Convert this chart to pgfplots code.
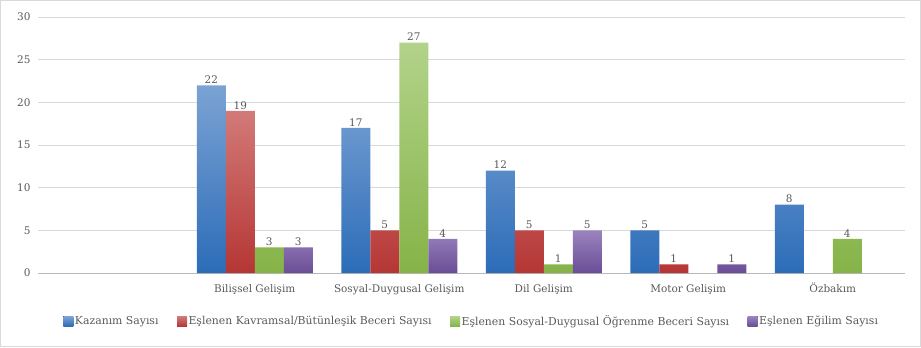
\documentclass[border=0pt]{standalone}
\usepackage{fontspec}
\setmainfont{DejaVu Serif}
\usepackage{pgfplots}
\pgfplotsset{compat=1.18}
\definecolor{cbT}{HTML}{7BA3D4}
\definecolor{cbB}{HTML}{2C6CB8}
\definecolor{crT}{HTML}{D27A78}
\definecolor{crB}{HTML}{B53634}
\definecolor{cgT}{HTML}{B2D38A}
\definecolor{cgB}{HTML}{86B348}
\definecolor{cpT}{HTML}{9A84BE}
\definecolor{cpB}{HTML}{6A4D96}
\definecolor{txt}{HTML}{595959}
\definecolor{grd}{HTML}{D9D9D9}
\begin{document}
\begin{tikzpicture}[x=1bp,y=1bp]
\useasboundingbox (0,0) rectangle (921,347);
\draw[grd] (0.5,0.5) rectangle (920.5,346.5);
\begin{axis}[
  at={(38bp,74bp)}, anchor=south west,
  scale only axis, width=867bp, height=256bp,
  /pgf/number format/assume math mode=true,
  xmin=-0.5, xmax=5.5, ymin=0, ymax=30,
  ytick={0,5,...,30},
  xtick={0,...,5},
  xticklabels={{},Bilişsel Gelişim,Sosyal-Duygusal Gelişim,Dil Gelişim,Motor Gelişim,Özbakım},
  major tick length=0pt,
  axis x line*=bottom, axis y line*=left,
  x axis line style={draw=grd!85!black, line width=0.8pt, -},
  y axis line style={draw=none},
  ymajorgrids, grid style={grd, line width=1pt},
  tick label style={text=txt, font=\fontsize{10.5}{12}\selectfont},
  yticklabel style={xshift=-4bp},
  xticklabel style={yshift=-8bp, text height=8bp, text depth=2bp},
  ybar=0pt, bar width=29bp,
  nodes near coords,
  every node near coord/.append style={text=txt, font=\fontsize{10.5}{12}\selectfont, inner sep=1.5bp},
  legend columns=4,
  legend style={draw=none, fill=none, at={(0.5,-0.15)}, anchor=north,
    font=\fontsize{10.9}{12}\selectfont, text=txt,
    nodes={inner xsep=1.5bp},
    /tikz/every odd column/.append style={column sep=0bp},
    /tikz/every even column/.append style={column sep=17bp}},
  legend image code/.code={\fill[#1] (0bp,-5bp) rectangle (10bp,5bp);},
]
\addplot[draw=none, top color=cbT, bottom color=cbB] coordinates {(1,22) (2,17) (3,12) (4,5) (5,8)};
\addplot[draw=none, top color=crT, bottom color=crB] coordinates {(1,19) (2,5) (3,5) (4,1)};
\addplot[draw=none, top color=cgT, bottom color=cgB] coordinates {(1,3) (2,27) (3,1) (5,4)};
\addplot[draw=none, top color=cpT, bottom color=cpB] coordinates {(1,3) (2,4) (3,5) (4,1)};
\legend{Kazanım Sayısı, Eşlenen Kavramsal/Bütünleşik Beceri Sayısı, Eşlenen Sosyal-Duygusal Öğrenme Beceri Sayısı, Eşlenen Eğilim Sayısı}
\end{axis}
\end{tikzpicture}
\end{document}
